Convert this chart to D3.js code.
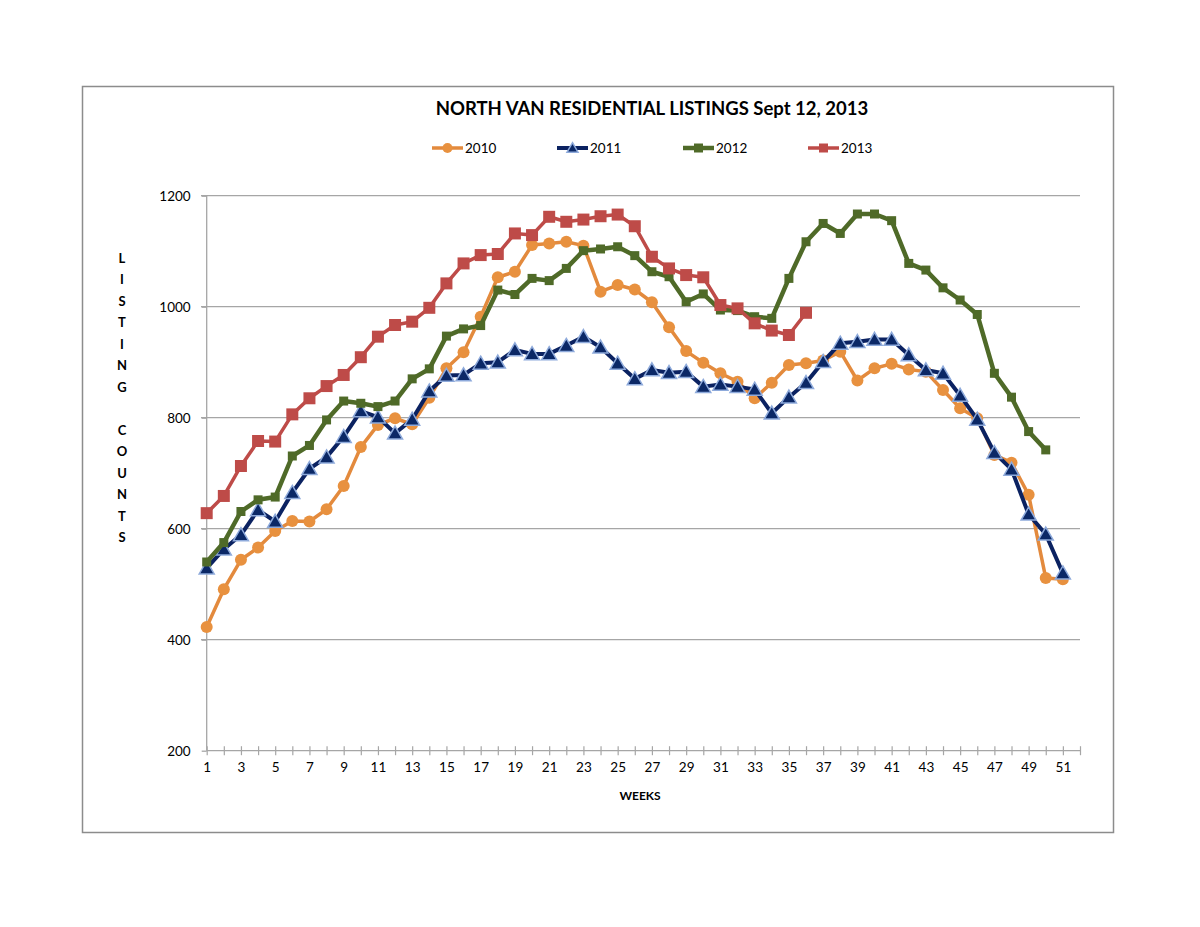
<!DOCTYPE html>
<html>
<head>
<meta charset="utf-8">
<script src="https://cdn.jsdelivr.net/npm/d3@7"></script>
<style>
  html, body { margin: 0; padding: 0; background: #fff; }
  svg { display: block; font-family: Lato, "Open Sans", sans-serif; }
</style>
</head>
<body>
<svg id="chart" width="1200" height="927"></svg>
<script>
// ---- data ----
const weeks = d3.range(1, 53);
const seriesNames = ["2010", "2011", "2012", "2013"];
const y2010 = [423, 491, 544, 566, 596, 614, 613, 635, 677, 747, 787, 799, 788, 836, 889, 918, 982, 1053, 1063, 1111,
  1114, 1117, 1110, 1027, 1039, 1031, 1008, 963, 920, 899, 880, 865, 835, 863, 895, 898, 903, 919, 867, 889,
  897, 887, 883, 850, 817, 799, 733, 719, 661, 511, 509];
const y2011 = [529, 563, 589, 634, 613, 665, 708, 729, 766, 812, 801, 772, 797, 848, 876, 877, 898, 900, 922, 915,
  915, 930, 946, 927, 898, 870, 886, 881, 883, 856, 860, 856, 851, 808, 837, 863, 901, 934, 937, 941,
  941, 913, 886, 880, 840, 797, 737, 707, 626, 590, 520];
const y2012 = [540, 575, 631, 652, 657, 731, 750, 796, 830, 826, 820, 830, 870, 888, 947, 960, 966, 1030, 1022, 1051,
  1047, 1069, 1101, 1104, 1108, 1092, 1063, 1054, 1009, 1023, 994, 993, 982, 979, 1051, 1117, 1150, 1132, 1167, 1167,
  1155, 1078, 1066, 1034, 1012, 986, 880, 837, 775, 742];
const y2013 = [628, 659, 713, 758, 757, 806, 835, 857, 877, 909, 946, 967, 973, 998, 1042, 1078, 1093, 1095, 1132, 1129,
  1162, 1153, 1157, 1163, 1166, 1145, 1090, 1069, 1057, 1053, 1003, 997, 970, 957, 949, 989];
const yTicks = [200, 400, 600, 800, 1000, 1200];
const xTickLabels = d3.range(1, 52, 2);
const titleText = "NORTH VAN RESIDENTIAL LISTINGS Sept 12, 2013";
const yAxisTitle = ["L","I","S","T","I","N","G","","C","O","U","N","T","S"];
const xAxisTitle = "WEEKS";

// ---- styles ----
const styles = [
  { line: "#E38A3D", fill: "#E8913F", stroke: "none", sw: 0, width: 3.5, shape: "circle", size: 6 },
  { line: "#0B2261", fill: "#0B2866", stroke: "#8EAADB", sw: 1.5, width: 4, shape: "triangle", size: 15 },
  { line: "#4F6A28", fill: "#4F6A28", stroke: "none", sw: 0, width: 4.5, shape: "square", size: 9 },
  { line: "#BE4B48", fill: "#BE4B48", stroke: "none", sw: 0, width: 3.5, shape: "square", size: 12 }
];
const allSeries = [y2010, y2011, y2012, y2013];

const svg = d3.select("#chart");

// frame
svg.append("rect").attr("x", 82.5).attr("y", 86.5).attr("width", 1031).attr("height", 746)
  .attr("fill", "#fff").attr("stroke", "#8c8c8c").attr("stroke-width", 1.5);

const x = d3.scaleLinear().domain([1, 52]).range([206.7, 1080]);
const y = d3.scaleLinear().domain([200, 1200]).range([750.7, 195.7]);

// gridlines
svg.append("g").selectAll("line").data(yTicks.filter(d => d > 200)).join("line")
  .attr("x1", 201).attr("x2", 1080).attr("y1", d => y(d)).attr("y2", d => y(d))
  .attr("stroke", "#a6a6a6").attr("stroke-width", 1.3);

// y axis
const yAxis = d3.axisLeft(y).tickValues(yTicks).tickSize(5).tickPadding(11).tickFormat(d3.format("d"));
const gy = svg.append("g").attr("transform", `translate(${x(1)},0)`).call(yAxis);
gy.select(".domain").attr("stroke", "#a6a6a6").attr("stroke-width", 1.3).attr("d", `M-5,${y(1200)}H0V${y(200)}`);
gy.selectAll(".tick line").attr("stroke", "#a6a6a6").attr("stroke-width", 1.3);
gy.selectAll(".tick text").attr("font-family", "Lato, sans-serif").attr("font-size", 13.5).attr("fill", "#000");

// x axis
const xAxis = d3.axisBottom(x).tickValues(weeks).tickSize(4.5).tickFormat(d => xTickLabels.includes(d) ? d : "");
const gx = svg.append("g").attr("transform", `translate(0,${y(200)})`).call(xAxis);
gx.select(".domain").attr("stroke", "#a6a6a6").attr("stroke-width", 1.3).attr("d", `M${x(1)},0H${x(52)}`);
gx.selectAll(".tick line").attr("stroke", "#a6a6a6").attr("stroke-width", 1.2).attr("y1", -4.5);
gx.selectAll(".tick text").attr("font-family", "Lato, sans-serif").attr("font-size", 13.5).attr("fill", "#000").attr("dy", "1.05em");

// series
const symbolFor = (s) => {
  if (s.shape === "circle") return d3.symbol().type(d3.symbolCircle).size(Math.PI * s.size * s.size);
  if (s.shape === "square") return d3.symbol().type(d3.symbolSquare).size(s.size * s.size);
  return d3.symbol().type(d3.symbolTriangle).size(s.size * s.size * 0.433);
};
const lineGen = d3.line().x((d, i) => x(i + 1)).y(d => y(d));

allSeries.forEach((data, k) => {
  const s = styles[k];
  const g = svg.append("g");
  g.append("path").datum(data).attr("d", lineGen).attr("fill", "none")
    .attr("stroke", s.line).attr("stroke-width", s.width).attr("stroke-linejoin", "round");
  g.selectAll("path.m").data(data).join("path").attr("class", "m")
    .attr("transform", (d, i) => `translate(${x(i + 1)},${y(d) + (s.shape === "triangle" ? 1.5 : 0)})`)
    .attr("d", symbolFor(s)).attr("fill", s.fill).attr("stroke", s.stroke).attr("stroke-width", s.sw);
});

// title
svg.append("text").attr("x", 652).attr("y", 115).attr("text-anchor", "middle")
  .attr("font-family", "Lato, sans-serif").attr("font-weight", "bold").attr("font-size", 18.5).text(titleText);

// legend
const legendX = [432, 557, 683, 808];
seriesNames.forEach((name, k) => {
  const s = styles[k];
  const g = svg.append("g").attr("transform", `translate(${legendX[k]},148)`);
  g.append("line").attr("x1", 0).attr("x2", 31).attr("y1", 0).attr("y2", 0)
    .attr("stroke", s.line).attr("stroke-width", s.width);
  const ms = Object.assign({}, s, { size: s.shape === "circle" ? 5 : s.shape === "triangle" ? 11 : 9 });
  g.append("path").attr("transform", `translate(15.5,${s.shape === "triangle" ? 1 : 0})`).attr("d", symbolFor(ms))
    .attr("fill", s.fill).attr("stroke", s.stroke).attr("stroke-width", s.sw);
  g.append("text").attr("x", 33).attr("y", 0).attr("dy", "0.35em")
    .attr("font-family", "Lato, sans-serif").attr("font-size", 13.5).text(name);
});

// y axis title (stacked letters)
svg.append("g").selectAll("text").data(yAxisTitle).join("text")
  .attr("x", 122).attr("y", (d, i) => 258 + i * 21.5).attr("dy", "0.35em").attr("text-anchor", "middle")
  .attr("font-family", "Lato, sans-serif").attr("font-weight", "bold").attr("font-size", 13).text(d => d);

// x axis title
svg.append("text").attr("x", 640).attr("y", 796).attr("dy", "0.35em").attr("text-anchor", "middle")
  .attr("font-family", "Lato, sans-serif").attr("font-weight", "bold").attr("font-size", 12).text(xAxisTitle);
</script>
</body>
</html>
